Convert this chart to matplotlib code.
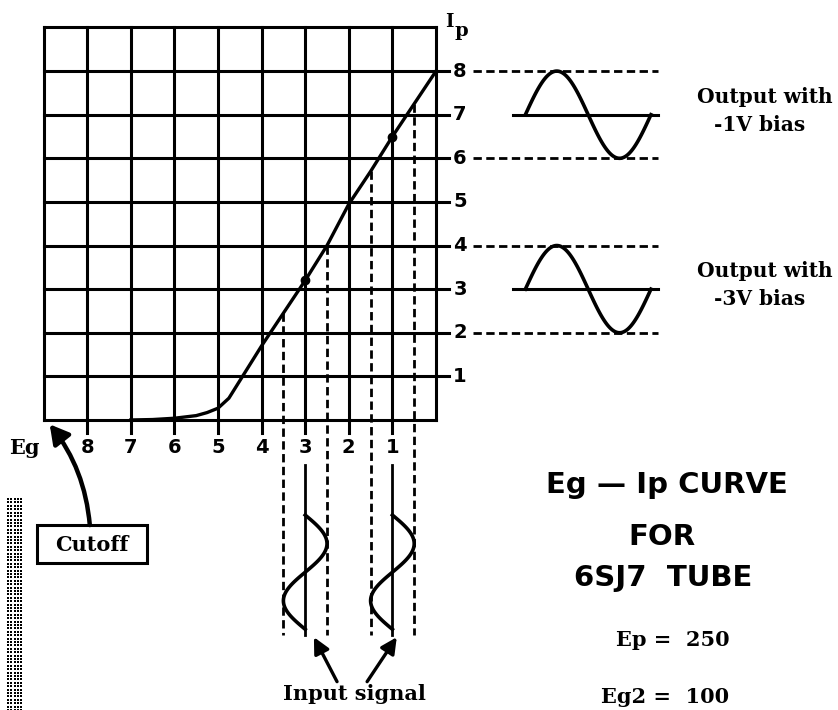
import matplotlib.pyplot as plt
from matplotlib.patches import Rectangle, FancyArrowPatch
import numpy as np

# Eg - Ip characteristic, 6SJ7 tube (Ep = 250, Eg2 = 100)
grid_bias = [-8, -7, -6, -5, -4, -3, -2, -1]
grid_bias_labels = ['8', '7', '6', '5', '4', '3', '2', '1']
grid_ip = [1, 2, 3, 4, 5, 6, 7, 8]
grid_ip_labels = ['1', '2', '3', '4', '5', '6', '7', '8']

curve_eg = [-7.0, -6.5, -6.0, -5.5, -5.25, -5.0, -4.75, -4.5, -4.25,
            -4.0, -3.5, -3.0, -2.5, -2.0, -1.5, -1.0, -0.5, 0.0]
curve_ip = [0.0, 0.01, 0.04, 0.1, 0.17, 0.27, 0.5, 0.9, 1.3,
            1.7, 2.45, 3.2, 4.0, 4.95, 5.7, 6.5, 7.25, 8.0]

bias_points = [-3, -1]       # operating points
bias_ip = [3.2, 6.5]
input_swing = 0.5            # grid signal, volts peak
output_center = [7, 3]       # plate current at -1V and -3V bias
output_swing = [1, 1]
output_names = ['-1V bias', '-3V bias']

serif = 'DejaVu Serif'
sans = 'DejaVu Sans'
ink = 'black'

fig = plt.figure(figsize=(8.38, 7.10), dpi=100)
ax = fig.add_axes([0, 0, 1, 1])
ax.set_xlim(-10.0, 9.22)
ax.set_ylim(-6.65, 9.63)
ax.axis('off')

lw = 2.2
# grid: 9 x 9 squares
for x in range(-9, 1):
    ax.plot([x, x], [0, 9], color=ink, lw=lw, solid_capstyle='projecting')
for x in grid_bias:
    ax.plot([x, x], [0, -0.3], color=ink, lw=lw)
for y in range(0, 10):
    ax.plot([-9, 0], [y, y], color=ink, lw=lw, solid_capstyle='projecting')
for y in grid_ip:
    ax.plot([0, 0.3], [y, y], color=ink, lw=lw)

for x, lab in zip(grid_bias, grid_bias_labels):
    ax.text(x, -0.64, lab, ha='center', va='center', fontsize=14,
            fontweight='bold', family=sans)
for y, lab in zip(grid_ip, grid_ip_labels):
    ax.text(0.55, y, lab, ha='center', va='center', fontsize=14,
            fontweight='bold', family=sans)
ax.text(-9.45, -0.64, 'Eg', ha='center', va='center', fontsize=15,
        fontweight='bold', family=serif)
ax.text(0.3, 9.13, 'I', ha='center', va='center', fontsize=13,
        fontweight='bold', family=serif)
ax.text(0.58, 8.93, 'p', ha='center', va='center', fontsize=14,
        fontweight='bold', family=serif)

# transfer curve and operating points
ax.plot(curve_eg, curve_ip, color=ink, lw=2.4, solid_joinstyle='round')
ax.plot(bias_points, bias_ip, 'o', color=ink, ms=6)

# input signal swings, projected down from the curve
dash = (0, (3, 1.6))
sig_top, sig_bot = -2.18, -4.8
line_top, line_bot = -1.03, -4.92
t = np.linspace(0, 1, 120)
for b in bias_points:
    for edge in (b - input_swing, b + input_swing):
        top = np.interp(edge, curve_eg, curve_ip)
        ax.plot([edge, edge], [top, line_bot], color=ink, lw=2.0, linestyle=dash)
    ax.plot([b, b], [line_top, line_bot], color=ink, lw=2.0)
    ax.plot(b + input_swing * np.sin(2 * np.pi * t),
            sig_top + (sig_bot - sig_top) * t, color=ink, lw=2.6)

# output swings on the plate current scale
wave_x0, period = 2.05, 2.88
for c, s, name in zip(output_center, output_swing, output_names):
    for level in (c + s, c - s):
        ax.plot([0.85, 5.1], [level, level], color=ink, lw=2.0, linestyle=dash)
    ax.plot([1.77, 5.1], [c, c], color=ink, lw=2.2)
    ax.plot(wave_x0 + period * t, c + s * np.sin(2 * np.pi * t),
            color=ink, lw=2.6)
    ax.text(7.55, c + 0.41, 'Output with', ha='center', va='center',
            fontsize=14.5, fontweight='bold', family=serif)
    ax.text(7.42, c - 0.23, name, ha='center', va='center',
            fontsize=14.5, fontweight='bold', family=serif)

# cutoff callout
ax.add_patch(Rectangle((-9.15, -3.28), 2.52, 0.87, fill=False,
                       lw=2.2, edgecolor=ink))
ax.text(-7.89, -2.86, 'Cutoff', ha='center', va='center', fontsize=15,
        fontweight='bold', family=serif)
ax.add_patch(FancyArrowPatch((-7.94, -2.41), (-8.86, -0.1),
                             connectionstyle='arc3,rad=0.15',
                             arrowstyle='-|>,head_length=0.8,head_width=0.45',
                             mutation_scale=14, lw=3.2, color=ink,
                             shrinkA=0, shrinkB=0))

# input signal callout
ax.text(-1.86, -6.28, 'Input signal', ha='center', va='center', fontsize=15,
        fontweight='bold', family=serif)
for tail, tip in [((-2.27, -6.0), (-2.8, -4.98)), ((-1.58, -6.0), (-0.9, -4.98))]:
    ax.add_patch(FancyArrowPatch(tail, tip,
                                 arrowstyle='-|>,head_length=0.8,head_width=0.4',
                                 mutation_scale=12, lw=2.4, color=ink,
                                 shrinkA=0, shrinkB=0))

# title block
ax.text(5.3, -1.49, 'Eg \u2014 Ip CURVE', ha='center', va='center',
        fontsize=21, fontweight='heavy', family=sans)
ax.text(5.18, -2.68, 'FOR', ha='center', va='center',
        fontsize=21, fontweight='heavy', family=sans)
ax.text(5.21, -3.62, '6SJ7  TUBE', ha='center', va='center',
        fontsize=21, fontweight='heavy', family=sans)
ax.text(5.44, -5.05, 'Ep =  250', ha='center', va='center',
        fontsize=15, fontweight='bold', family=serif)
ax.text(5.25, -6.35, 'Eg2 =  100', ha='center', va='center',
        fontsize=15, fontweight='bold', family=serif)

# halftone strip along the left margin
hx, hy = np.meshgrid(np.arange(-9.82, -9.45, 0.078), np.arange(-6.65, -1.77, 0.078))
ax.scatter(hx.ravel(), hy.ravel(), s=2.6, marker='s', color=ink, linewidths=0)

fig.savefig('out.png', dpi=100)
